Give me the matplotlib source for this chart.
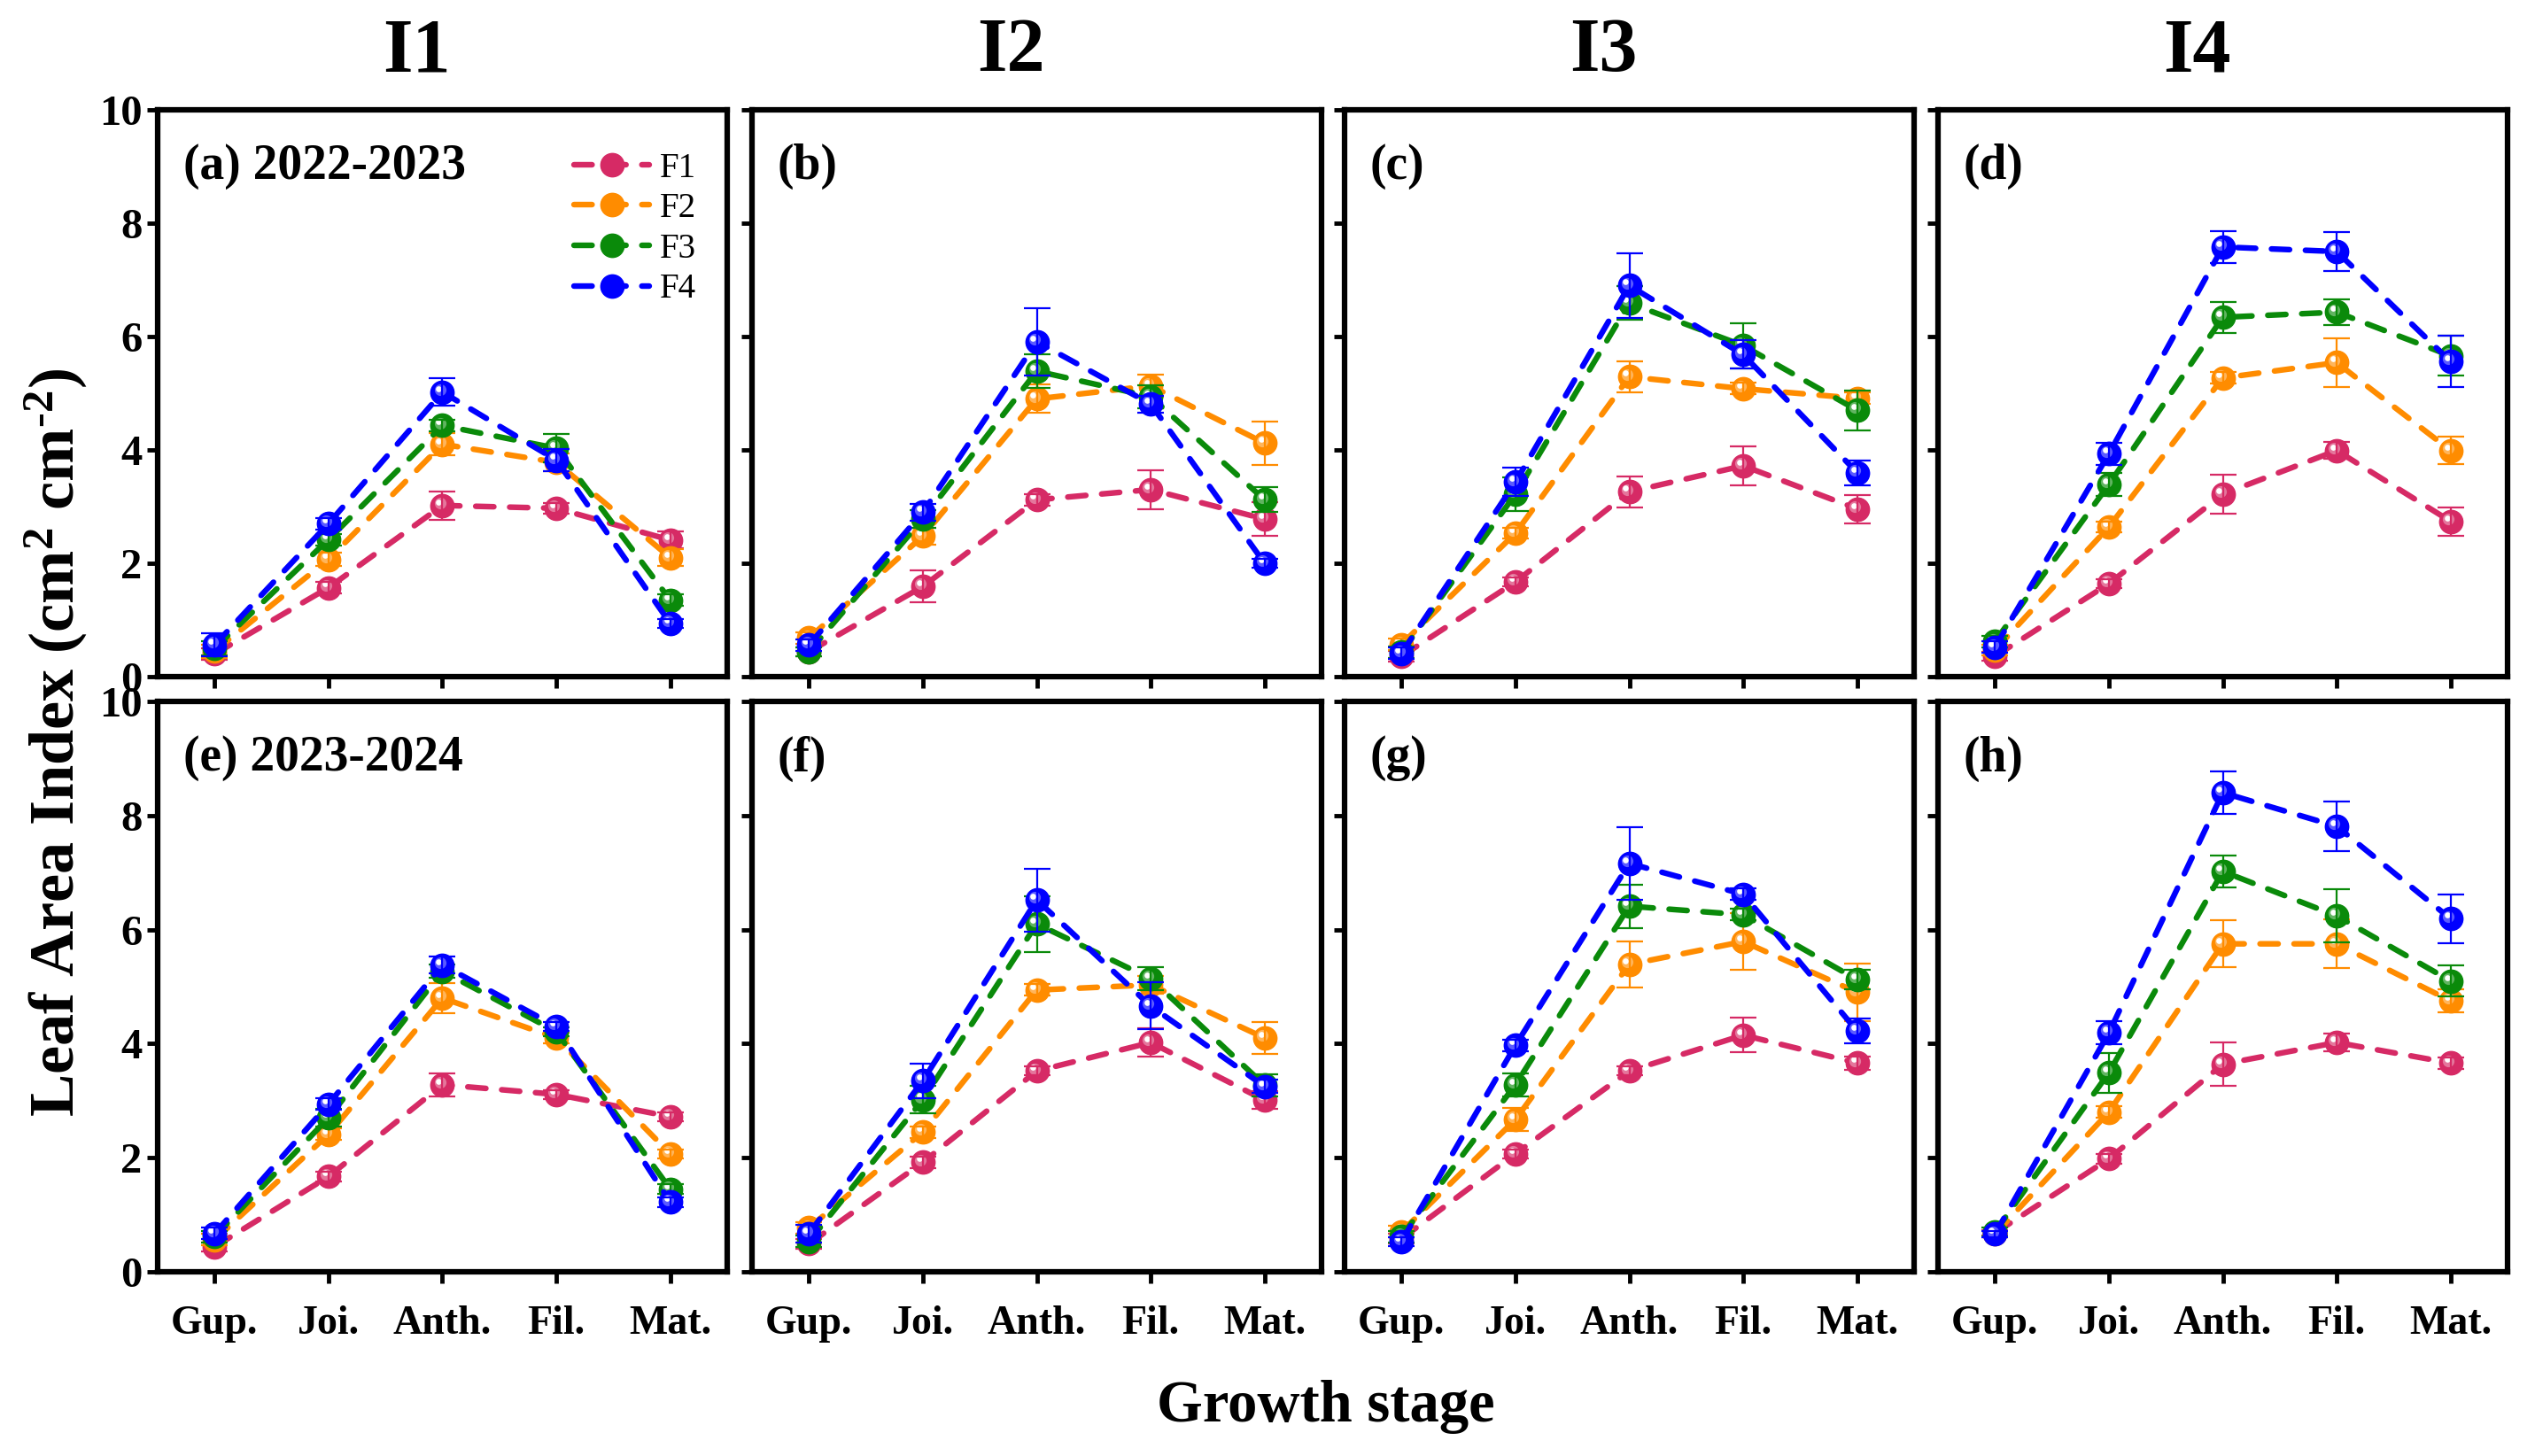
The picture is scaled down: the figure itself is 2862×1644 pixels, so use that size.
import numpy as np
import matplotlib
matplotlib.use('Agg')
import matplotlib.pyplot as plt
from matplotlib.transforms import offset_copy
from matplotlib.colors import to_rgb

plt.rcParams['font.family'] = ['Liberation Serif', 'DejaVu Serif']
plt.rcParams['mathtext.fontset'] = 'custom'
plt.rcParams['mathtext.rm'] = 'Liberation Serif:bold'
plt.rcParams['mathtext.it'] = 'Liberation Serif:bold'
plt.rcParams['mathtext.bf'] = 'Liberation Serif:bold'
plt.rcParams['mathtext.default'] = 'bf'

# Data: leaf area index, rows = F1..F4, cols = growth stages
stages = ['Gup.', 'Joi.', 'Anth.', 'Fil.', 'Mat.']
treatments = ['F1', 'F2', 'F3', 'F4']
colors = ['#D62A65', '#FF8C00', '#0A8A0A', '#0000FF']
col_titles = ['I1', 'I2', 'I3', 'I4']
panel_tags = ['(a) 2022-2023', '(b)', '(c)', '(d)',
              '(e) 2023-2024', '(f)', '(g)', '(h)']

lai_a = [[0.40, 1.57, 3.02, 2.97, 2.41],
         [0.45, 2.07, 4.10, 3.78, 2.10],
         [0.50, 2.42, 4.43, 4.03, 1.35],
         [0.56, 2.70, 5.02, 3.82, 0.94]]
sd_a = [[0.10, 0.10, 0.25, 0.10, 0.15],
        [0.12, 0.12, 0.20, 0.15, 0.15],
        [0.12, 0.10, 0.10, 0.25, 0.10],
        [0.20, 0.10, 0.24, 0.20, 0.08]]

lai_b = [[0.44, 1.59, 3.12, 3.30, 2.78],
         [0.68, 2.48, 4.90, 5.13, 4.12],
         [0.44, 2.78, 5.39, 4.94, 3.12],
         [0.56, 2.90, 5.91, 4.81, 2.00]]
sd_b = [[0.08, 0.28, 0.10, 0.34, 0.30],
        [0.10, 0.15, 0.25, 0.20, 0.38],
        [0.08, 0.15, 0.30, 0.20, 0.22],
        [0.10, 0.15, 0.59, 0.15, 0.08]]

lai_c = [[0.36, 1.67, 3.26, 3.72, 2.96],
         [0.57, 2.53, 5.29, 5.08, 4.91],
         [0.43, 3.22, 6.59, 5.84, 4.70],
         [0.41, 3.43, 6.90, 5.68, 3.60]]
sd_c = [[0.10, 0.08, 0.27, 0.35, 0.25],
        [0.10, 0.10, 0.28, 0.10, 0.10],
        [0.10, 0.30, 0.30, 0.40, 0.35],
        [0.10, 0.25, 0.57, 0.25, 0.22]]

lai_d = [[0.36, 1.64, 3.22, 3.99, 2.74],
         [0.47, 2.64, 5.27, 5.54, 3.99],
         [0.62, 3.39, 6.34, 6.43, 5.66],
         [0.52, 3.93, 7.58, 7.50, 5.56]]
sd_d = [[0.08, 0.08, 0.34, 0.15, 0.25],
        [0.10, 0.10, 0.10, 0.43, 0.24],
        [0.10, 0.20, 0.27, 0.23, 0.35],
        [0.10, 0.20, 0.28, 0.35, 0.45]]

lai_e = [[0.44, 1.67, 3.28, 3.11, 2.72],
         [0.56, 2.41, 4.80, 4.10, 2.07],
         [0.62, 2.70, 5.27, 4.21, 1.45],
         [0.67, 2.94, 5.38, 4.30, 1.22]]
sd_e = [[0.08, 0.08, 0.20, 0.08, 0.08],
        [0.10, 0.10, 0.26, 0.10, 0.08],
        [0.10, 0.15, 0.12, 0.08, 0.08],
        [0.10, 0.10, 0.15, 0.08, 0.08]]

lai_f = [[0.49, 1.92, 3.52, 4.02, 3.01],
         [0.77, 2.45, 4.94, 5.03, 4.10],
         [0.53, 3.02, 6.10, 5.14, 3.27],
         [0.67, 3.35, 6.52, 4.66, 3.25]]
sd_f = [[0.08, 0.10, 0.08, 0.25, 0.15],
        [0.10, 0.10, 0.10, 0.15, 0.28],
        [0.10, 0.24, 0.49, 0.20, 0.20],
        [0.15, 0.30, 0.55, 0.41, 0.12]]

lai_g = [[0.58, 2.07, 3.52, 4.15, 3.66],
         [0.70, 2.67, 5.39, 5.79, 4.90],
         [0.62, 3.28, 6.41, 6.26, 5.12],
         [0.53, 3.97, 7.16, 6.62, 4.22]]
sd_g = [[0.08, 0.08, 0.08, 0.30, 0.12],
        [0.10, 0.20, 0.40, 0.50, 0.50],
        [0.10, 0.20, 0.38, 0.10, 0.17],
        [0.08, 0.10, 0.64, 0.10, 0.22]]

lai_h = [[0.68, 1.98, 3.64, 4.02, 3.66],
         [0.66, 2.80, 5.75, 5.75, 4.75],
         [0.70, 3.49, 7.02, 6.24, 5.10],
         [0.66, 4.19, 8.40, 7.81, 6.19]]
sd_h = [[0.05, 0.08, 0.38, 0.15, 0.10],
        [0.05, 0.10, 0.41, 0.43, 0.20],
        [0.08, 0.35, 0.28, 0.47, 0.27],
        [0.05, 0.20, 0.37, 0.43, 0.43]]

panels = [(lai_a, sd_a), (lai_b, sd_b), (lai_c, sd_c), (lai_d, sd_d),
          (lai_e, sd_e), (lai_f, sd_f), (lai_g, sd_g), (lai_h, sd_h)]

W, H = 2862, 1644
fig = plt.figure(figsize=(W / 100, H / 100), dpi=100)

# axes boxes in pixels
col_lefts = [178, 849, 1518, 2188]
col_w = 643
rows = [(124, 764), (792, 1436)]

x = np.arange(1, 6)


def lighten(c, f):
    r, g, b = to_rgb(c)
    return (r + (1 - r) * f, g + (1 - g) * f, b + (1 - b) * f)


axes = []
for i, (means, sds) in enumerate(panels):
    r, c = divmod(i, 4)
    top, bot = rows[r]
    ax = fig.add_axes([col_lefts[c] / W, 1 - bot / H, col_w / W, (bot - top) / H])
    axes.append(ax)
    for k in range(4):
        col = colors[k]
        ax.plot(x, means[k], color=col, lw=4.6, linestyle=(0, (3.2, 2.8)),
                dash_capstyle='round', marker='o', ms=19, mec=col, mfc=col,
                label=treatments[k], zorder=3 + k)
        # sphere highlight
        tr1 = offset_copy(ax.transData, fig=fig, x=-2.0, y=2.0, units='points')
        ax.plot(x, means[k], ls='none', marker='o', ms=9.5, mec='none',
                mfc=lighten(col, 0.45), alpha=0.8, transform=tr1, zorder=3 + k)
        tr2 = offset_copy(ax.transData, fig=fig, x=-2.9, y=2.9, units='points')
        ax.plot(x, means[k], ls='none', marker='o', ms=4.8, mec='none',
                mfc='white', transform=tr2, zorder=3 + k)
        ax.errorbar(x, means[k], yerr=sds[k], fmt='none', ecolor=col,
                    elinewidth=1.6, capsize=10.5, capthick=1.6, zorder=3.5 + k)

    ax.set_xlim(0.5, 5.5)
    ax.set_ylim(0, 10)
    ax.set_xticks(x)
    ax.set_yticks([0, 2, 4, 6, 8, 10])
    for sp in ax.spines.values():
        sp.set_linewidth(4.5)
    ax.tick_params(direction='out', length=9, width=3.5)
    if r == 0:
        ax.set_xticklabels([])
    else:
        ax.set_xticklabels(stages, fontsize=33, fontweight='bold')
        ax.tick_params(axis='x', pad=18)
    if c == 0:
        ax.set_yticklabels([str(v) for v in [0, 2, 4, 6, 8, 10]],
                           fontsize=35, fontweight='bold')
    else:
        ax.set_yticklabels([])
    ax.text(0.045, 0.9, panel_tags[i], transform=ax.transAxes,
            fontsize=40, fontweight='bold', va='center', ha='left')
    if r == 0:
        ax.text(0.455, 1.1, col_titles[c], transform=ax.transAxes,
                fontsize=62, fontweight='bold', ha='center', va='center')

axes[0].legend(loc='upper right', bbox_to_anchor=(0.97, 0.95), frameon=False,
               fontsize=28, handlelength=2.2, handletextpad=0.3,
               labelspacing=0.22, borderaxespad=0)

fig.text(0.022, 0.49, 'Leaf Area Index (cm$^{2}$ cm$^{\u20102}$)', rotation=90,
         fontsize=52, fontweight='bold', ha='center', va='center')
fig.text(0.523, 0.034, 'Growth stage', fontsize=48, fontweight='bold',
         ha='center', va='center')

fig.savefig('out.png', dpi=100, facecolor='white')
